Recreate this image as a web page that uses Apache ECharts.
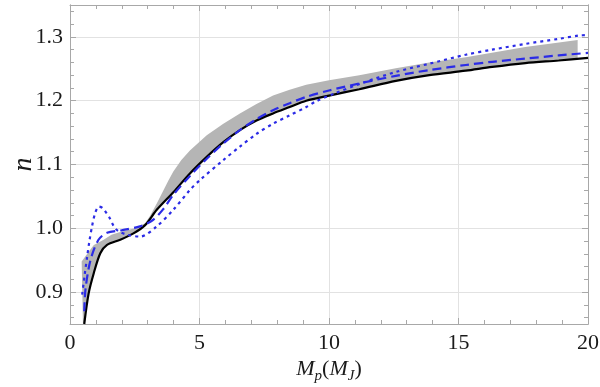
<!DOCTYPE html>
<html>
<head>
<meta charset="utf-8">
<script src="https://cdn.jsdelivr.net/npm/echarts@6/dist/echarts.min.js"></script>
<style>
    html, body { margin: 0; padding: 0; background: #fff; }
    #chart { width: 600px; height: 387px; }
</style>
</head>
<body>
<div id="chart"></div>
<script>

// Data
// ------------------------------

// Solid black curve
var solidX = [0.55, 0.72, 0.92, 1.17, 1.43, 1.94, 2.45, 2.9, 3.35, 4.0, 4.63, 5.28, 5.92, 6.56, 7.2, 7.84, 8.48, 9.12, 10.0, 11.17, 12.58, 13.87, 15.28, 16.3, 17.58, 18.87, 20];
var solidN = [0.85, 0.898, 0.93, 0.961, 0.974, 0.982, 0.992, 1.005, 1.029, 1.057, 1.086, 1.112, 1.135, 1.154, 1.169, 1.18, 1.19, 1.2, 1.208, 1.218, 1.231, 1.24, 1.247, 1.253, 1.259, 1.263, 1.267];

// Dashed blue curve
var dashedX = [0.55, 0.6, 0.79, 1.1, 1.43, 2.0, 2.7, 3.2, 3.6, 4.0, 4.63, 5.28, 5.92, 6.56, 7.2, 7.84, 8.48, 9.12, 10.0, 11.17, 12.58, 13.87, 15.28, 16.3, 17.58, 18.87, 20];
var dashedN = [0.87, 0.905, 0.95, 0.982, 0.993, 0.997, 1.003, 1.013, 1.03, 1.053, 1.082, 1.109, 1.133, 1.154, 1.171, 1.185, 1.196, 1.206, 1.216, 1.227, 1.239, 1.248, 1.256, 1.261, 1.266, 1.271, 1.275];

// Dotted blue curve
var dottedX = [0.47, 0.56, 0.66, 0.75, 0.85, 0.98, 1.12, 1.25, 1.37, 1.52, 1.68, 1.85, 2.2, 2.71, 3.35, 3.99, 4.63, 5.0, 5.92, 6.56, 7.2, 7.84, 8.48, 9.12, 9.5, 10.2, 11.3, 12.58, 13.87, 15.28, 16.3, 17.58, 18.87, 19.63, 20];
var dottedN = [0.896, 0.925, 0.955, 0.98, 1.003, 1.025, 1.034, 1.032, 1.026, 1.017, 1.004, 0.996, 0.99, 0.987, 1.003, 1.029, 1.06, 1.075, 1.107, 1.128, 1.148, 1.164, 1.177, 1.19, 1.199, 1.211, 1.228, 1.245, 1.258, 1.272, 1.28, 1.289, 1.297, 1.302, 1.303];

// Gray band, upper edge
var bandHighX = [0.45, 0.7, 0.92, 1.3, 1.6, 2.0, 2.5, 2.9, 3.1, 3.35, 3.6, 3.8, 3.99, 4.3, 4.63, 5.28, 5.92, 6.56, 7.2, 7.84, 8.48, 9.12, 10.0, 11.17, 12.58, 13.87, 15.28, 17.58, 19.6];
var bandHighN = [0.948, 0.962, 0.974, 0.982, 0.99, 0.995, 1.0, 1.008, 1.02, 1.039, 1.059, 1.075, 1.089, 1.107, 1.122, 1.146, 1.164, 1.18, 1.195, 1.208, 1.217, 1.225, 1.232, 1.24, 1.251, 1.26, 1.268, 1.284, 1.295];

// Gray band, lower edge
var bandLowX = [0.5, 0.55, 0.72, 0.92, 1.17, 1.43, 1.94, 2.45, 2.9, 3.35, 4.0, 4.63, 5.28, 5.92, 6.56, 7.2, 7.84, 8.48, 9.12, 10.0, 11.17, 12.58, 13.87, 15.28, 16.3, 17.58, 18.87, 19.6];
var bandLowN = [0.85, 0.85, 0.898, 0.93, 0.961, 0.974, 0.982, 0.992, 1.005, 1.029, 1.057, 1.086, 1.112, 1.135, 1.154, 1.169, 1.18, 1.19, 1.2, 1.208, 1.218, 1.231, 1.24, 1.247, 1.253, 1.259, 1.263, 1.265];

// Tick values
var yMajorTicks = [0.9, 1.0, 1.1, 1.2, 1.3];
var yMinorTicks = [0.86, 0.88, 0.92, 0.94, 0.96, 0.98, 1.02, 1.04, 1.06, 1.08, 1.12, 1.14, 1.16, 1.18, 1.22, 1.24, 1.26, 1.28, 1.32, 1.34];


var pairs = function(xs, ys) {
    return xs.map(function(x, i) { return [x, ys[i]]; });
};

var serif = '"Liberation Serif", "Times New Roman", serif';
var frameColor = '#a8a8a8';
var gridColor = '#e2e2e2';
var blue = '#2b2be6';

var chart = echarts.init(document.getElementById('chart'));

var xAxisBase = function(pos) {
    return {
        type: 'value',
        position: pos,
        min: 0,
        max: 20,
        interval: 5,
        axisLine: { show: true, lineStyle: { color: frameColor, width: 1 } },
        axisTick: { show: true, inside: true, length: 6, lineStyle: { color: frameColor } },
        minorTick: { show: true, splitNumber: 5, length: 4, lineStyle: { color: frameColor } },
        splitLine: { show: false },
        axisLabel: { show: false }
    };
};

var yAxisBase = function(pos, ticks, len) {
    return {
        type: 'value',
        position: pos,
        min: 0.85,
        max: 1.35,
        axisLine: { show: true, lineStyle: { color: frameColor, width: 1 } },
        axisTick: { show: true, inside: true, length: len, customValues: ticks, lineStyle: { color: frameColor } },
        splitLine: { show: false },
        axisLabel: { show: false }
    };
};

var xBottom = xAxisBase('bottom');
xBottom.splitLine = { show: true, lineStyle: { color: gridColor, width: 1 } };
xBottom.axisLabel = {
    show: true,
    color: '#1a1a1a',
    fontFamily: serif,
    fontSize: 22,
    margin: 8
};
xBottom.name = '{i|M}{s|p}{n|(}{i|M}{s|J}{n|)}';
xBottom.nameLocation = 'middle';
xBottom.nameGap = 30;
xBottom.nameMoveOverlap = false;
xBottom.nameTextStyle = {
    rich: {
        i: { fontFamily: serif, fontStyle: 'italic', fontSize: 22, color: '#1a1a1a', lineHeight: 30, verticalAlign: 'middle' },
        n: { fontFamily: serif, fontSize: 22, color: '#1a1a1a', lineHeight: 30, verticalAlign: 'middle' },
        s: { fontFamily: serif, fontStyle: 'italic', fontSize: 15, color: '#1a1a1a', lineHeight: 30, verticalAlign: 'bottom' }
    }
};

var yLeft = yAxisBase('left', yMajorTicks, 6);
yLeft.splitLine = { show: true, lineStyle: { color: gridColor, width: 1 } };
yLeft.axisLabel = {
    show: true,
    customValues: yMajorTicks,
    color: '#1a1a1a',
    fontFamily: serif,
    fontSize: 22,
    margin: 7,
    formatter: function(v) { return v.toFixed(1); }
};
yLeft.name = 'n';
yLeft.nameLocation = 'middle';
yLeft.nameGap = 32;
yLeft.nameMoveOverlap = false;
yLeft.nameTextStyle = { fontFamily: serif, fontStyle: 'italic', fontSize: 28, color: '#1a1a1a' };

chart.setOption({
    animation: false,
    backgroundColor: '#fff',
    grid: { left: 70, right: 12, top: 5, bottom: 63, outerBoundsMode: 'none' },
    xAxis: [xBottom, xAxisBase('top')],
    yAxis: [
        yLeft,
        yAxisBase('left', yMinorTicks, 4),
        yAxisBase('right', yMajorTicks, 6),
        yAxisBase('right', yMinorTicks, 4)
    ],
    series: [
        {
            // gray band drawn as one polygon through the axis scales
            type: 'custom',
            xAxisIndex: 0,
            yAxisIndex: 0,
            z: 1,
            silent: true,
            data: pairs(bandHighX, bandHighN),
            renderItem: function(params, api) {
                if (params.dataIndex !== 0) return;
                var pts = [];
                for (var i = 0; i < bandHighX.length; i++) {
                    pts.push(api.coord([bandHighX[i], bandHighN[i]]));
                }
                for (var j = bandLowX.length - 1; j >= 0; j--) {
                    pts.push(api.coord([bandLowX[j], bandLowN[j]]));
                }
                return {
                    type: 'polygon',
                    shape: { points: pts },
                    style: { fill: '#b5b5b5' }
                };
            }
        },
        {
            name: 'solid',
            type: 'line',
            z: 3,
            data: pairs(solidX, solidN),
            smooth: 0.3,
            showSymbol: false,
            lineStyle: { color: '#000', width: 2.2 }
        },
        {
            name: 'dashed',
            type: 'line',
            z: 4,
            data: pairs(dashedX, dashedN),
            smooth: 0.3,
            showSymbol: false,
            lineStyle: { color: blue, width: 2.2, type: [9, 5] }
        },
        {
            name: 'dotted',
            type: 'line',
            z: 5,
            data: pairs(dottedX, dottedN),
            smooth: 0.3,
            showSymbol: false,
            lineStyle: { color: blue, width: 2.2, type: [3, 4] }
        }
    ]
});

</script>
</body>
</html>
